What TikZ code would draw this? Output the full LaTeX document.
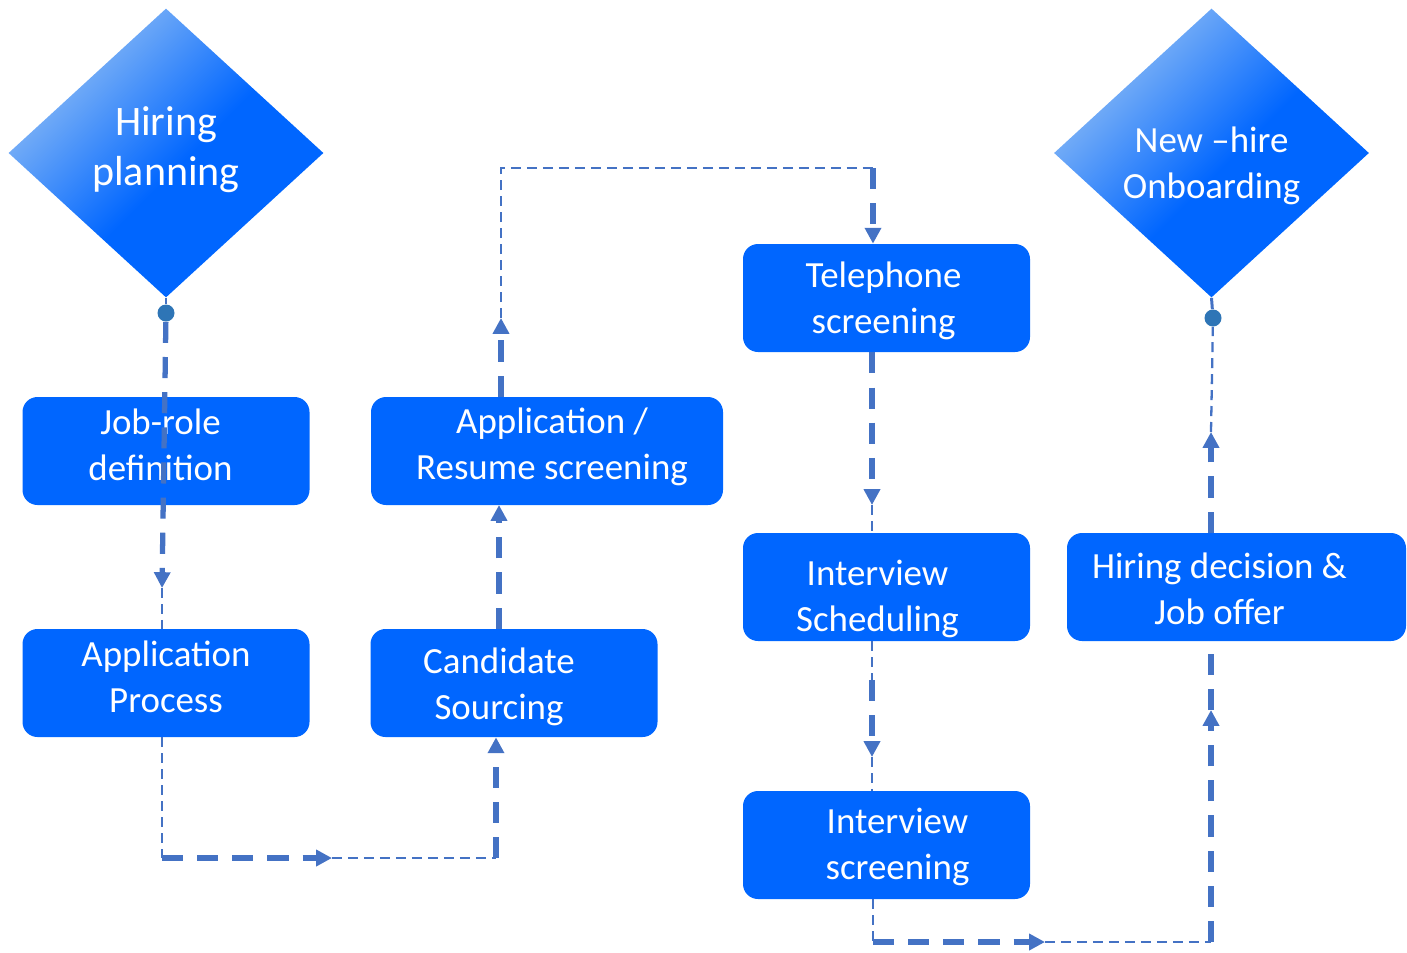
\documentclass[tikz,border=0pt]{standalone}
\usepackage{fontspec}
\setmainfont{Carlito}
\usepackage{tikz}
\usetikzlibrary{shapes.geometric, arrows.meta}
\definecolor{boxblue}{RGB}{0,102,255}
\definecolor{paleblue}{RGB}{125,178,246}
\definecolor{linkblue}{RGB}{68,114,196}
\definecolor{dotblue}{RGB}{46,117,182}
\pgfdeclareverticalshading{cornerfade}{100bp}{color(0bp)=(boxblue); color(47bp)=(boxblue); color(71bp)=(paleblue); color(100bp)=(paleblue)}
\tikzstyle{milestone} = [diamond, minimum width=6.3cm, minimum height=5.78cm, inner sep=0pt, shading=cornerfade, shading angle=45]
\tikzstyle{stage} = [rectangle, rounded corners=0.3cm, minimum width=5.74cm, minimum height=2.16cm, inner sep=0pt, fill=boxblue]
\tikzstyle{caption} = [text=white, align=center, inner sep=0pt, font=\fontsize{21}{26}\selectfont]
\tikzstyle{joint} = [circle, fill=dotblue, inner sep=0pt, minimum size=0.34cm]
\tikzstyle{link} = [line width=3pt, draw=linkblue, dash pattern=on 12pt off 8pt, ->, >={Triangle[length=9pt,width=9pt]}]
\tikzstyle{thinlink} = [line width=1.3pt, draw=linkblue, dash pattern=on 5.7pt off 3.4pt]
\tikzstyle{stub} = [line width=1.7pt, draw=linkblue]
\begin{document}
\begin{tikzpicture}
		\useasboundingbox (0,0) rectangle (28.14,-19.04);
		\node (plan) [milestone, label={[caption, yshift=0.06cm, font=\fontsize{23.9}{28.5}\selectfont]center:{Hiring\\planning}}] at (3.32,-3.06) {};
		\node (jobrole) [stage, below of = plan, yshift = -4.96cm, label={[caption, xshift=-0.11cm, yshift=0.12cm]center:{Job-role\\definition}}] {};
		\node (appproc) [stage, below of = jobrole, yshift = -3.64cm, label={[caption, yshift=0.12cm]center:{Application\\Process}}] {};
		\node (resume) [stage, minimum width=7.04cm, right of = jobrole, xshift = 6.62cm, label={[caption, xshift=0.1cm, yshift=0.08cm]center:{Application /\\Resume screening}}] {};
		\node (cand) [stage, right of = appproc, xshift = 5.96cm, label={[caption, xshift=-0.3cm, yshift=-0.08cm]center:{Candidate\\Sourcing}}] {};
		\node (tele) [stage, right of = resume, xshift = 5.79cm, yshift = 3.06cm, label={[caption, xshift=-0.06cm, yshift=-0.06cm]center:{Telephone\\screening}}] {};
		\node (sched) [stage, below of = tele, yshift = -4.78cm, label={[caption, xshift=-0.18cm, yshift=-0.24cm]center:{Interview\\Scheduling}}] {};
		\node (intv) [stage, below of = sched, yshift = -4.16cm, label={[caption, xshift=0.22cm, yshift=-0.04cm]center:{Interview\\screening}}] {};
		\node (offer) [stage, minimum width=6.78cm, right of = sched, xshift = 6cm, label={[caption, xshift=-0.34cm, yshift=-0.04cm]center:{Hiring decision \&\\Job offer}}] {};
		\node (onboard) [milestone, above of = offer, yshift = 7.68cm, xshift = -0.5cm, label={[caption, yshift=-0.26cm]center:{New –hire\\Onboarding}}] {};
		\node (dotA) [joint, below of = plan, yshift = -2.2cm] {};
		\node (dotB) [joint, below of = onboard, yshift = -2.3cm, xshift = 0.03cm] {};
		% bends and mid points of the connectors
		\coordinate (tipA) at (3.24,-11.76);
		\coordinate (turnB) at (3.24,-17.16);
		\coordinate (tipB) at (6.64,-17.16);
		\coordinate (turnC) at (9.92,-17.16);
		\coordinate (tipD) at (9.98,-10.1);
		\coordinate (tipE) at (10.02,-6.36);
		\coordinate (turnE) at (10.02,-3.36);
		\coordinate (turnF) at (17.46,-3.36);
		\coordinate (tipG) at (17.44,-10.1);
		\coordinate (startH) at (17.44,-13.6);
		\coordinate (tipH) at (17.44,-15.14);
		\coordinate (turnI) at (17.46,-18.84);
		\coordinate (tipI) at (20.9,-18.84);
		\coordinate (turnJ) at (24.22,-18.84);
		\coordinate (tipJ) at (24.22,-14.2);
		\coordinate (tipK) at (24.22,-8.64);
		\draw [stub] (plan.south) -- (dotA);
		\draw [link] (dotA) -- (tipA);
		\draw [thinlink] (tipA) -- (tipA |- appproc.north);
		\draw [thinlink] (turnB |- appproc.south) -- (turnB);
		\draw [link] (turnB) -- (tipB);
		\draw [thinlink] (tipB) -- (turnC);
		\draw [link] (turnC) -- (turnC |- cand.south);
		\draw [link] (tipD |- cand.north) -- (tipD);
		\draw [link] (tipE |- resume.north) -- (tipE);
		\draw [thinlink] (tipE) -- (turnE) -- (turnF);
		\draw [link] (turnF) -- (turnF |- tele.north);
		\draw [link] (tipG |- tele.south) -- (tipG);
		\draw [thinlink] (tipG) -- (tipG |- sched.north);
		\draw [thinlink] (startH |- sched.south) -- (startH);
		\draw [link] (startH) -- (tipH);
		\draw [thinlink] (tipH) -- (tipH |- intv.north);
		\draw [thinlink] (turnI |- intv.south) -- (turnI);
		\draw [link] (turnI) -- (tipI);
		\draw [thinlink] (tipI) -- (turnJ);
		\draw [link] (turnJ) -- (tipJ);
		\draw [link, -] (tipJ) -- (tipJ |- offer.south);
		\draw [link] (tipK |- offer.north) -- (tipK);
		\draw [thinlink] (tipK) -- (dotB);
		\draw [stub] (dotB) -- (onboard.south);
	\end{tikzpicture}
\end{document}
